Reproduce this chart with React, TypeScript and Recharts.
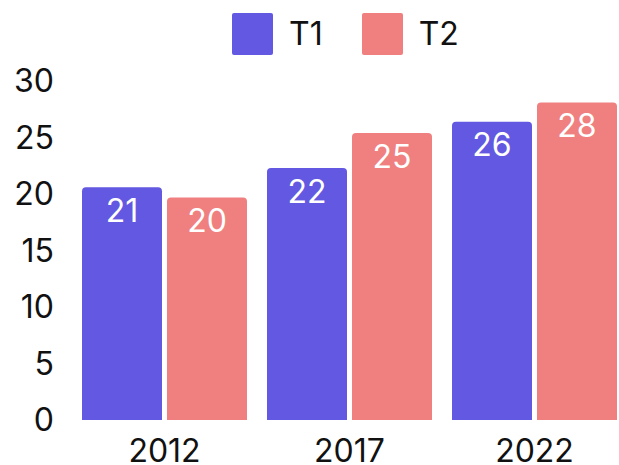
import React from "react";
import { BarChart, Bar, XAxis, YAxis, Legend, LabelList } from "recharts";

const years = ["2012", "2017", "2022"];
const t1Values = [20.6, 22.3, 26.4];
const t2Values = [19.7, 25.4, 28.1];
const yTicks = [0, 5, 10, 15, 20, 25, 30];
const seriesNames = ["T1", "T2"];
const seriesColors = ["#6358e1", "#f08080"];

const data = years.map((y, i) => ({ year: y, T1: t1Values[i], T2: t2Values[i] }));

const FONT = "Inter, 'Open Sans', sans-serif";

const renderLegend = () => (
  <div style={{ height: 81, boxSizing: "border-box", paddingTop: 13, paddingLeft: 232, display: "flex", alignItems: "flex-start", fontFamily: FONT }}>
    {seriesNames.map((n, i) => (
      <div key={n} style={{ display: "flex", alignItems: "center", marginRight: i === 0 ? 39 : 0 }}>
        <div style={{ width: 41, height: 42, background: seriesColors[i], borderRadius: 2 }} />
        <span style={{ marginLeft: 16, fontSize: 32, color: "#111", lineHeight: "42px" }}>{n}</span>
      </div>
    ))}
  </div>
);

export default function App() {
  return (
    <div style={{ position: "absolute", top: 0, left: 0, width: 619, height: 465, overflow: "hidden" }}>
      <BarChart
        width={628}
        height={465}
        data={data}
        margin={{ top: 0, right: 1, bottom: 0, left: 0 }}
        barCategoryGap={10}
        barGap={5}
        style={{ fontFamily: FONT }}
      >
        <Legend verticalAlign="top" align="left" content={renderLegend} wrapperStyle={{ top: 0, left: 0 }} />
        <XAxis
          dataKey="year"
          axisLine={false}
          tickLine={false}
          tickSize={0}
          tickMargin={19}
          height={45}
          tick={{ fontSize: 32, fill: "#111", fontFamily: FONT }}
        />
        <YAxis
          domain={[0, 30]}
          ticks={yTicks}
          axisLine={false}
          tickLine={false}
          tickSize={0}
          tickMargin={18}
          width={72}
          interval={0}
          tick={{ fontSize: 32, fill: "#111", fontFamily: FONT }}
        />
        {seriesNames.map((n, i) => (
          <Bar key={n} dataKey={n} fill={seriesColors[i]} barSize={80} radius={[4, 4, 0, 0]} isAnimationActive={false}>
            <LabelList
              dataKey={n}
              position="insideTop"
              offset={12}
              formatter={(v: number) => Math.round(v)}
              style={{ fill: "#ffffff", fontSize: 32, fontFamily: FONT }}
            />
          </Bar>
        ))}
      </BarChart>
    </div>
  );
}
